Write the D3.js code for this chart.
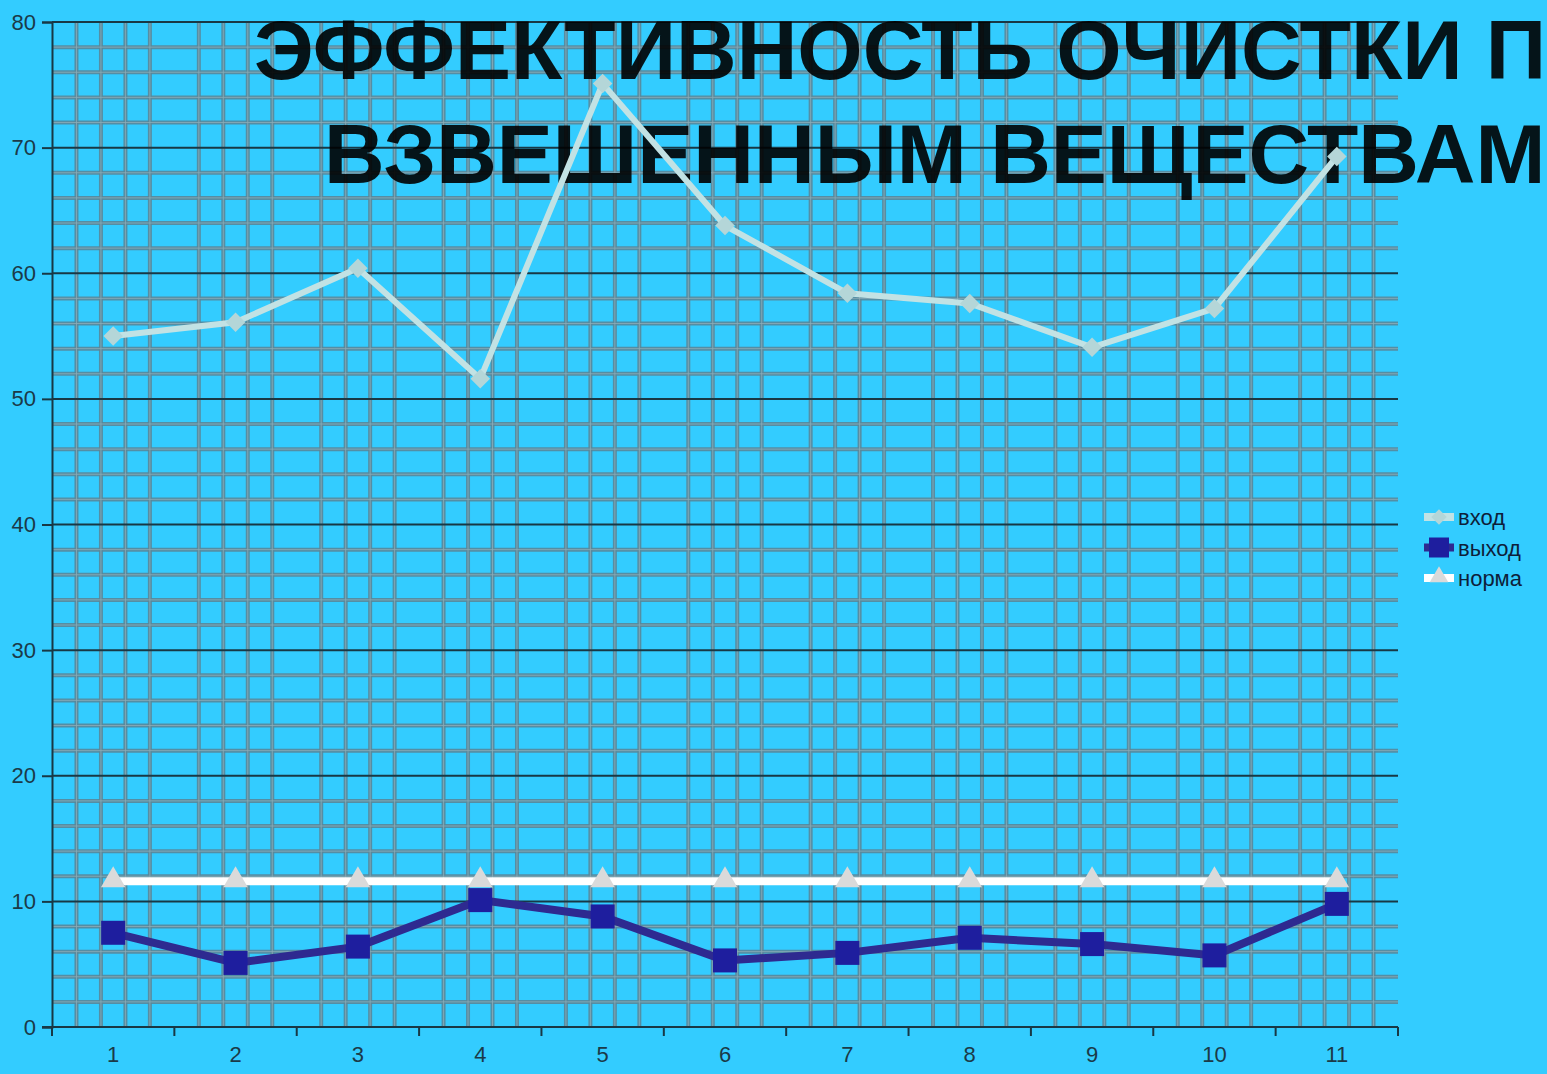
<!DOCTYPE html>
<html>
<head>
<meta charset="utf-8">
<script src="https://cdn.jsdelivr.net/npm/d3@7"></script>
<style>
  html, body { margin: 0; padding: 0; background: #33ccff; }
  svg { display: block; }
</style>
</head>
<body>
<svg id="chart" width="1547" height="1074"></svg>
<script>
var categories = ["1", "2", "3", "4", "5", "6", "7", "8", "9", "10", "11"];
var inputValues = [55.0, 56.1, 60.4, 51.6, 75.1, 63.8, 58.4, 57.6, 54.1, 57.2, 69.3];
var outputValues = [7.5, 5.1, 6.4, 10.1, 8.8, 5.3, 5.9, 7.1, 6.6, 5.7, 9.8];
var normValues = [11.6, 11.6, 11.6, 11.6, 11.6, 11.6, 11.6, 11.6, 11.6, 11.6, 11.6];
var seriesNames = ["вход", "выход", "норма"];
var yTicks = [0, 10, 20, 30, 40, 50, 60, 70, 80];
var titleLines = ["ЭФФЕКТИВНОСТЬ ОЧИСТКИ ПО", "ВЗВЕШЕННЫМ ВЕЩЕСТВАМ"];

var svg = d3.select('#chart');
var plotLeft = 52, plotRight = 1398, plotTop = 22, plotBottom = 1027;

var x = d3.scaleBand().domain(categories).range([plotLeft, plotRight]).padding(0);
var y = d3.scaleLinear().domain([0, 80]).range([plotBottom, plotTop]);
var bw = x.bandwidth();

// minor grid
var grid = svg.append('g').attr('class', 'grid');
var minorY = d3.range(2, 81, 2).filter(function(v) { return v % 10 !== 0; });
var minorX = [];
categories.forEach(function(c) {
  for (var k = 1; k <= 4; k++) minorX.push(x(c) + bw * k / 5);
});

function hLines(cls, data, color, w, op) {
  grid.selectAll('.' + cls)
      .data(data)
    .enter().append('line')
      .attr('class', cls)
      .attr('x1', plotLeft).attr('x2', plotRight)
      .attr('y1', function(d) { return y(d); })
      .attr('y2', function(d) { return y(d); })
      .attr('stroke', color)
      .attr('stroke-opacity', op)
      .attr('stroke-width', w);
}
function vLines(cls, data, color, w, op) {
  grid.selectAll('.' + cls)
      .data(data)
    .enter().append('line')
      .attr('class', cls)
      .attr('x1', function(d) { return d; })
      .attr('x2', function(d) { return d; })
      .attr('y1', plotTop).attr('y2', plotBottom)
      .attr('stroke', color)
      .attr('stroke-opacity', op)
      .attr('stroke-width', w);
}
hLines('hminor', minorY, '#58879a', 4, 0.9);
vLines('vminor', minorX, '#58879a', 4, 0.9);
hLines('hcentre', minorY, '#8cadb8', 1, 0.8);
vLines('vcentre', minorX, '#8cadb8', 1, 0.8);

// major lines
grid.selectAll('.hmajor')
    .data(yTicks.filter(function(d) { return d > 0; }))
  .enter().append('line')
    .attr('x1', plotLeft).attr('x2', plotRight)
    .attr('y1', function(d) { return y(d); })
    .attr('y2', function(d) { return y(d); })
    .attr('stroke', '#183845')
    .attr('stroke-width', 2);

// title over the grid, a little see-through
var title = svg.append('g').attr('class', 'title')
  .attr('font-family', 'Liberation Sans, Arial, sans-serif')
  .attr('font-weight', 'bold')
  .attr('font-size', 84)
  .attr('fill', '#000')
  .attr('fill-opacity', 0.9);
title.append('text').attr('x', 254).attr('y', 79).text(titleLines[0]);
title.append('text').attr('x', 324).attr('y', 183).text(titleLines[1]);

// axes
var yAxis = d3.axisLeft(y).tickValues(yTicks).tickSize(10).tickPadding(6);
var gy = svg.append('g').attr('transform', 'translate(' + plotLeft + ',0)').call(yAxis);
gy.select('.domain').attr('stroke', '#183845').attr('stroke-width', 2);
gy.selectAll('.tick line').attr('stroke', '#183845').attr('stroke-width', 2);
gy.selectAll('text')
  .attr('font-family', 'Liberation Sans, Arial, sans-serif')
  .attr('font-size', 22).attr('fill', '#1b3a48');

var xAxis = d3.axisBottom(x).tickSize(0).tickPadding(19);
var gx = svg.append('g').attr('transform', 'translate(0,' + plotBottom + ')').call(xAxis);
gx.select('.domain').remove();
gx.selectAll('text')
  .attr('font-family', 'Liberation Sans, Arial, sans-serif')
  .attr('font-size', 22).attr('fill', '#1b3a48');
gx.append('line').attr('x1', plotLeft - 10).attr('x2', plotRight)
  .attr('stroke', '#183845').attr('stroke-width', 2);
var boundaries = categories.map(function(c) { return x(c); }).concat([plotRight]);
gx.selectAll('.bt')
    .data(boundaries)
  .enter().append('line')
    .attr('x1', function(d) { return d; })
    .attr('x2', function(d) { return d; })
    .attr('y1', 0).attr('y2', 9)
    .attr('stroke', '#183845').attr('stroke-width', 2);

function cx(d, i) { return x(categories[i]) + bw / 2; }
var line = d3.line()
  .x(function(d, i) { return cx(d, i); })
  .y(function(d) { return y(d); });

// вход
svg.append('path').datum(inputValues)
  .attr('d', line).attr('fill', 'none')
  .attr('stroke', '#c2e2e4').attr('stroke-width', 6);
svg.selectAll('.inMark')
    .data(inputValues)
  .enter().append('path')
    .attr('transform', function(d, i) { return 'translate(' + cx(d, i) + ',' + y(d) + ') rotate(45)'; })
    .attr('d', d3.symbol().type(d3.symbolSquare).size(190))
    .attr('fill', '#b4d6d8');

// норма
svg.append('path').datum(normValues)
  .attr('d', line).attr('fill', 'none')
  .attr('stroke', '#ffffff').attr('stroke-width', 8);
svg.selectAll('.normMark')
    .data(normValues)
  .enter().append('path')
    .attr('transform', function(d, i) { return 'translate(' + cx(d, i) + ',' + (y(d) - 1) + ')'; })
    .attr('d', d3.symbol().type(d3.symbolTriangle).size(260))
    .attr('fill', '#dadada');

// выход
svg.append('path').datum(outputValues)
  .attr('d', line).attr('fill', 'none')
  .attr('stroke', '#2e2a90').attr('stroke-width', 8);
svg.selectAll('.outMark')
    .data(outputValues)
  .enter().append('rect')
    .attr('x', function(d, i) { return cx(d, i) - 12; })
    .attr('y', function(d) { return y(d) - 12; })
    .attr('width', 24).attr('height', 24)
    .attr('fill', '#1e1e9e');

// legend
var legend = svg.append('g').attr('transform', 'translate(1424,517)');
var legendStyles = [
  { stroke: '#c2e2e4', mark: 'diamond', fill: '#b4d6d8' },
  { stroke: '#2e2a90', mark: 'square', fill: '#1e1e9e' },
  { stroke: '#ffffff', mark: 'triangle', fill: '#dadada' }
];
seriesNames.forEach(function(name, i) {
  var g = legend.append('g').attr('transform', 'translate(0,' + (i * 30.5) + ')');
  var st = legendStyles[i];
  g.append('line').attr('x1', 0).attr('x2', 30)
    .attr('stroke', st.stroke).attr('stroke-width', 8);
  if (st.mark === 'square') {
    g.append('rect').attr('x', 5).attr('y', -10).attr('width', 20).attr('height', 20).attr('fill', st.fill);
  } else if (st.mark === 'diamond') {
    g.append('path').attr('transform', 'translate(15,0) rotate(45)')
      .attr('d', d3.symbol().type(d3.symbolSquare).size(120)).attr('fill', st.fill);
  } else {
    g.append('path').attr('transform', 'translate(15,-1)')
      .attr('d', d3.symbol().type(d3.symbolTriangle).size(150)).attr('fill', st.fill);
  }
  g.append('text').attr('x', 34).attr('y', 8)
    .attr('font-family', 'Liberation Sans, Arial, sans-serif')
    .attr('font-size', 22).attr('fill', '#0e1e3a')
    .text(name);
});
</script>
</body>
</html>
